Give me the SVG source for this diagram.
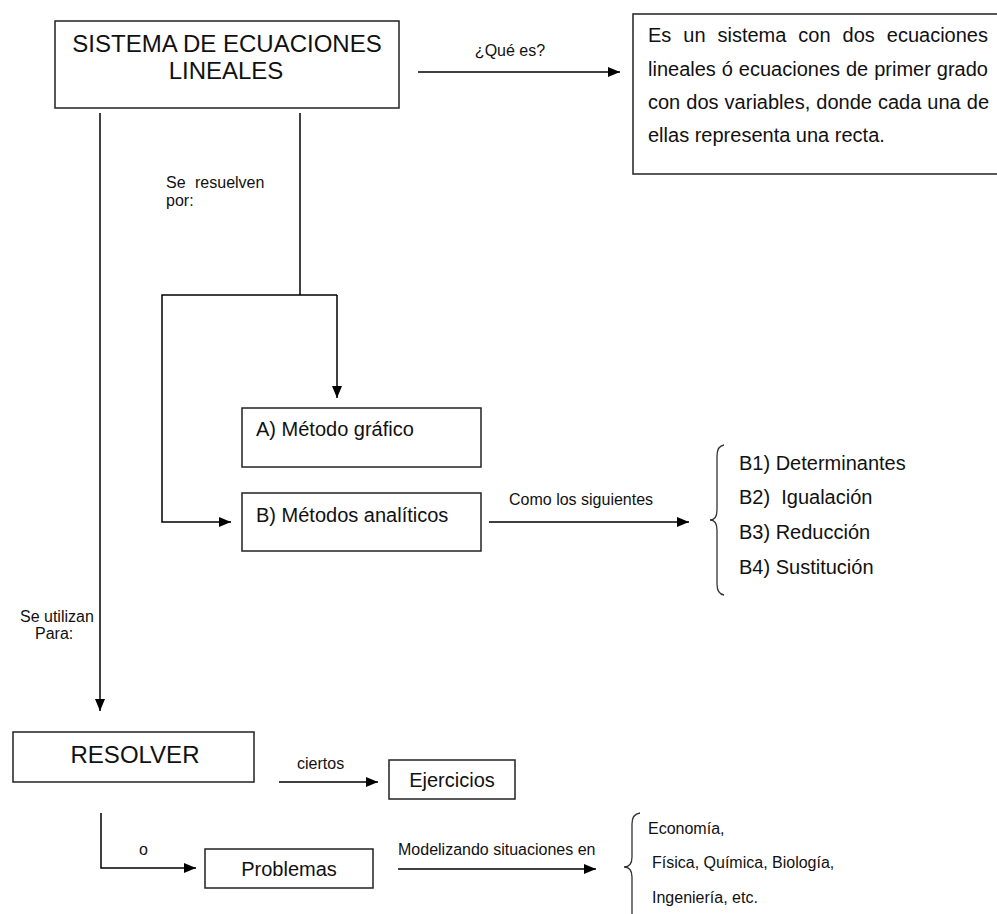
<svg xmlns="http://www.w3.org/2000/svg" width="997" height="914" viewBox="0 0 997 914">
<style>
.box{fill:#fff;stroke:#222;stroke-width:1.5}
.c{fill:none;stroke:#000;stroke-width:1.5}
.br{fill:none;stroke:#333;stroke-width:1.3}
text{font-family:"Liberation Sans",Arial,sans-serif;fill:#111}
.t24{font-size:24px}
.t20{font-size:20px}
.t16{font-size:16px}
.mid{text-anchor:middle}
</style>
<defs>
<marker id="ah" viewBox="0 0 12 10" refX="12" refY="5" markerWidth="12" markerHeight="10" markerUnits="userSpaceOnUse" orient="auto">
<path d="M0,0 L12,5 L0,10 z" fill="#000"/>
</marker>
</defs>
<rect width="997" height="914" fill="#fff"/>

<g id="connectors">
<path class="c" d="M418,72 H620" marker-end="url(#ah)"/>
<path class="c" d="M100,113 V711" marker-end="url(#ah)"/>
<path class="c" d="M300,113 V295"/>
<path class="c" d="M337,295 V398" marker-end="url(#ah)"/>
<path class="c" d="M337,295 H162 V522 H231" marker-end="url(#ah)"/>
<path class="c" d="M489,522 H689" marker-end="url(#ah)"/>
<path class="c" d="M279,782 H378" marker-end="url(#ah)"/>
<path class="c" d="M101,813 V868 H196" marker-end="url(#ah)"/>
<path class="c" d="M398,869 H596" marker-end="url(#ah)"/>
<text class="t16" x="510" y="56" text-anchor="middle">¿Qué es?</text>
<text class="t16" x="166" y="188">Se<tspan x="195">resuelven</tspan></text>
<text class="t16" x="166" y="206">por:</text>
<text class="t16" x="509" y="505">Como los siguientes</text>
<text class="t16" x="20" y="622">Se utilizan</text>
<text class="t16" x="35" y="639">Para:</text>
<text class="t16" x="297" y="769">ciertos</text>
<text class="t16" x="139" y="855">o</text>
<text class="t16" x="398" y="855">Modelizando situaciones en</text>
</g>

<g id="sistema">
<rect class="box" x="55" y="21" width="344" height="87"/>
<text class="t24 mid" x="227" y="52">SISTEMA DE ECUACIONES</text>
<text class="t24 mid" x="226" y="79">LINEALES</text>
</g>

<g id="definicion">
<rect class="box" x="633" y="14" width="368" height="160"/>
<text class="t20" x="648" y="42" word-spacing="6.4">Es un sistema con dos ecuaciones</text>
<text class="t20" x="648" y="76" word-spacing="0.4">lineales ó ecuaciones de primer grado</text>
<text class="t20" x="648" y="109" word-spacing="0.5">con dos variables, donde cada una de</text>
<text class="t20" x="648" y="142">ellas representa una recta.</text>
</g>

<g id="metodo-grafico">
<rect class="box" x="242" y="408" width="239" height="59"/>
<text class="t20" x="256" y="436">A) Método gráfico</text>
</g>

<g id="metodos-analiticos">
<rect class="box" x="242" y="493" width="239" height="58"/>
<text class="t20" x="256" y="522">B) Métodos analíticos</text>
</g>

<g id="lista-metodos">
<path class="br" d="M724,445 Q717,446 717,456 L717,510 Q717,520 710,520 Q717,520 717,530 L717,584 Q717,594 724,595"/>
<text class="t20" x="739" y="470">B1) Determinantes</text>
<text class="t20" x="739" y="504">B2)&#160; Igualación</text>
<text class="t20" x="739" y="539">B3) Reducción</text>
<text class="t20" x="739" y="574">B4) Sustitución</text>
</g>

<g id="resolver">
<rect class="box" x="13" y="732" width="241" height="50"/>
<text class="t24 mid" x="135" y="763">RESOLVER</text>
</g>

<g id="ejercicios">
<rect class="box" x="389" y="760" width="126" height="39"/>
<text class="t20 mid" x="452" y="787">Ejercicios</text>
</g>

<g id="problemas">
<rect class="box" x="205" y="849" width="168" height="39"/>
<text class="t20 mid" x="289" y="876">Problemas</text>
</g>

<g id="areas">
<path class="br" d="M640,813 Q632,814 632,824 L632,857 Q632,867 624,867 Q632,867 632,877 L632,914"/>
<text class="t16" x="648" y="834">Economía,</text>
<text class="t16" x="652" y="868">Física, Química, Biología,</text>
<text class="t16" x="652" y="903">Ingeniería, etc.</text>
</g>
</svg>
